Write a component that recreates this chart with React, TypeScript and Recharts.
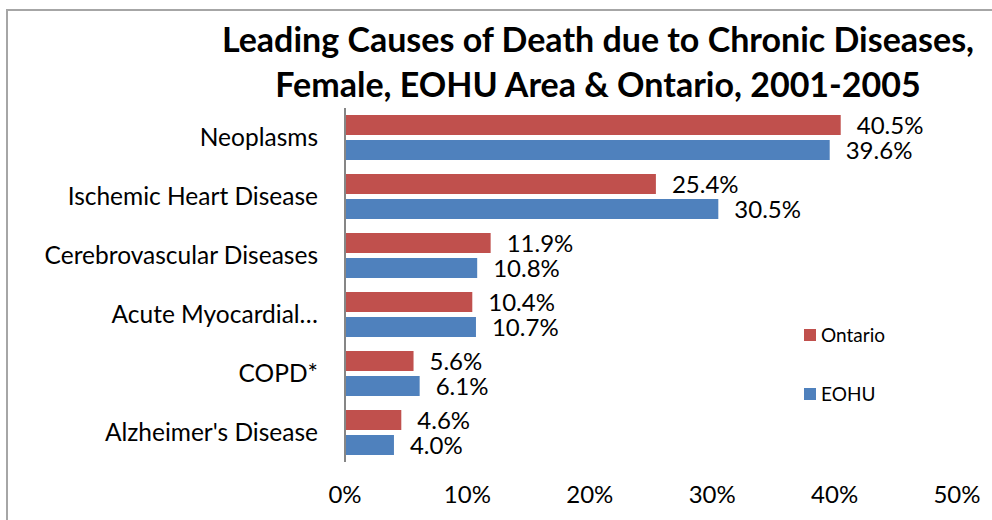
import { Bar, BarChart, LabelList, XAxis, YAxis } from "recharts";

const categories = [
  "Neoplasms",
  "Ischemic Heart Disease",
  "Cerebrovascular Diseases",
  "Acute Myocardial…",
  "COPD*",
  "Alzheimer's Disease",
];
const ontario = [40.5, 25.4, 11.9, 10.4, 5.6, 4.6];
const eohu = [39.6, 30.5, 10.8, 10.7, 6.1, 4.0];
const xTicks = [0, 10, 20, 30, 40, 50];

const RED = "#C0504D";
const BLUE = "#4F81BD";
const FONT = "Lato, 'Open Sans', sans-serif";

const data = categories.map((name, i) => ({
  name,
  ontario: ontario[i],
  eohu: eohu[i],
}));

const pct = (v: number) => `${v.toFixed(1)}%`;

export default function App() {
  return (
    <div
      style={{
        position: "absolute",
        left: 0,
        top: 0,
        width: 992,
        height: 520,
        background: "#fff",
        overflow: "hidden",
        fontFamily: FONT,
      }}
    >
      {/* chart frame, only top and left edges fall inside the crop */}
      <div
        style={{
          position: "absolute",
          left: 6,
          top: 9,
          width: 1100,
          height: 600,
          borderLeft: "2px solid #a6a6a6",
          borderTop: "2px solid #a6a6a6",
        }}
      />
      <div
        style={{
          position: "absolute",
          left: 198,
          width: 800,
          top: 16,
          textAlign: "center",
          fontWeight: 700,
          fontSize: 34,
          lineHeight: "45px",
          color: "#000",
        }}
      >
        Leading Causes of Death due to Chronic Diseases,
        <br />
        Female, EOHU Area &amp; Ontario, 2001-2005
      </div>
      <div style={{ position: "absolute", left: 0, top: 0 }}>
        <BarChart
          layout="vertical"
          width={992}
          height={520}
          data={data}
          margin={{ top: 108, right: 35, left: 0, bottom: 0 }}
          barCategoryGap={7}
          barGap={5}
        >
          <XAxis
            type="number"
            domain={[0, 50]}
            ticks={xTicks}
            tickFormatter={(v: number) => `${v}%`}
            axisLine={false}
            tickLine={false}
            tickSize={0}
            tickMargin={24}
            height={58}
            tick={{ fill: "#000", fontSize: 24, fontFamily: FONT }}
          />
          <YAxis
            type="category"
            dataKey="name"
            width={345}
            axisLine={{ stroke: "#868686", strokeWidth: 2 }}
            tickLine={false}
            tickSize={0}
            tickMargin={27}
            interval={0}
            tick={{ fill: "#000", fontSize: 24.5, fontFamily: FONT }}
          />
          <Bar dataKey="ontario" fill={RED} isAnimationActive={false}>
            <LabelList
              dataKey="ontario"
              position="right"
              offset={16}
              formatter={pct}
              style={{ fill: "#000", fontSize: 24, fontFamily: FONT }}
            />
          </Bar>
          <Bar dataKey="eohu" fill={BLUE} isAnimationActive={false}>
            <LabelList
              dataKey="eohu"
              position="right"
              offset={16}
              formatter={pct}
              style={{ fill: "#000", fontSize: 24, fontFamily: FONT }}
            />
          </Bar>
        </BarChart>
      </div>
      {[
        { label: "Ontario", color: RED, top: 323 },
        { label: "EOHU", color: BLUE, top: 382 },
      ].map((item) => (
        <div
          key={item.label}
          style={{
            position: "absolute",
            left: 804,
            top: item.top,
            display: "flex",
            alignItems: "center",
            fontSize: 19,
            color: "#000",
          }}
        >
          <span
            style={{
              display: "inline-block",
              width: 12,
              height: 12,
              background: item.color,
              marginRight: 5,
            }}
          />
          {item.label}
        </div>
      ))}
    </div>
  );
}
